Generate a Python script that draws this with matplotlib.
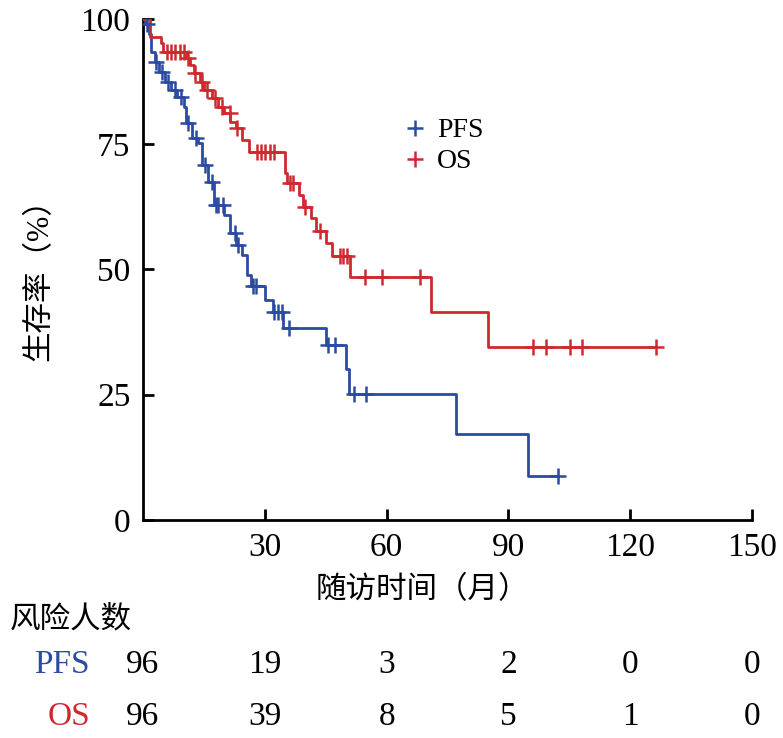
import numpy as np
import matplotlib
matplotlib.use('Agg')
import matplotlib.pyplot as plt
from matplotlib.lines import Line2D
from matplotlib.transforms import blended_transform_factory

plt.rcParams['font.family'] = ['Liberation Serif', 'Noto Sans CJK SC']

BLUE = '#2b4ba2'
RED = '#cd2a2f'

# step curves: event time (months) -> survival (%) after the drop
pfs_times = [0.5, 1.5, 2.0, 3.0, 4.0, 5.5, 7.0, 8.5, 10.0, 10.5, 12.0, 13.5, 14.5,
             16.0, 17.5, 20.0, 21.5, 23.0, 24.5, 25.5, 26.5, 30.0, 32.0, 34.5,
             45.0, 50.0, 50.8, 77.0, 94.8]
pfs_surv = [99.0, 97.0, 93.5, 91.5, 89.5, 87.5, 85.8, 84.4, 82.4, 79.2, 76.2, 75.2, 70.8,
            67.5, 62.9, 60.9, 57.3, 54.9, 52.9, 48.9, 46.7, 43.9, 41.5, 38.3,
            34.9, 30.1, 25.1, 17.2, 8.8]
pfs_censor = [1.0, 3.2, 4.6, 6.2, 7.8, 9.4, 11.2, 13.0, 15.3, 17.0, 18.0, 18.6, 19.7,
              22.7, 23.4, 27.0, 27.8, 32.3, 33.2, 34.2, 36.0, 45.5, 47.2, 52.0, 55.0, 102.2]

os_times = [1.7, 4.5, 5.0, 10.5, 11.5, 12.5, 14.0, 15.0, 17.0, 18.5, 20.0, 21.5, 23.0,
            24.5, 26.0, 35.0, 35.5, 38.5, 39.5, 41.5, 42.5, 45.0, 46.5, 51.0, 71.0, 85.0]
os_surv = [96.4, 95.2, 93.4, 92.2, 90.8, 89.2, 87.4, 85.8, 84.2, 82.4, 81.2, 79.4, 78.2,
           75.8, 73.5, 69.3, 67.3, 64.9, 62.5, 60.3, 57.7, 55.3, 52.7, 48.5, 41.5, 34.6]
os_censor = [6.0, 7.0, 8.0, 9.0, 10.0, 11.0, 12.8, 14.5, 15.8, 17.7, 19.5, 21.4, 23.1,
             28.0, 29.0, 30.0, 31.3, 32.3, 36.2, 37.0, 40.0, 43.6, 48.5, 49.3, 50.2,
             54.7, 58.9, 68.2, 96.0, 99.3, 105.2, 108.1, 126.4]

xticks = [30, 60, 90, 120, 150]
yticks = [0, 25, 50, 75, 100]
risk_times = [0, 30, 60, 90, 120, 150]
risk_pfs = [96, 19, 3, 2, 0, 0]
risk_os = [96, 39, 8, 5, 1, 0]

fig = plt.figure(figsize=(7.83, 7.38), dpi=100)
ax = fig.add_axes([0.1826, 0.2954, 0.7778, 0.6789])


def draw_curve(times, surv, censor, color):
    t = np.concatenate([[0.0], times, [max(censor)]])
    s = np.concatenate([[100.0], surv, [surv[-1]]])
    ax.step(t, s, where='post', color=color, lw=2.0, zorder=3)
    idx = np.searchsorted(t, censor, side='right') - 1
    ax.plot(censor, s[idx], ls='none', marker='+', ms=12, mew=1.8, color=color, zorder=4)


draw_curve(pfs_times, pfs_surv, pfs_censor, BLUE)
draw_curve(os_times, os_surv, os_censor, RED)

ax.set_xlim(0, 150)
ax.set_ylim(0, 100)
ax.set_xticks(xticks)
ax.set_yticks(yticks)
ax.spines['top'].set_visible(False)
ax.spines['right'].set_visible(False)
for sp in ('left', 'bottom'):
    ax.spines[sp].set_linewidth(2)
ax.tick_params(direction='in', length=8, width=2, labelsize=24, pad=9)

handles = [Line2D([], [], ls='none', marker='+', ms=12, mew=1.8, color=BLUE),
           Line2D([], [], ls='none', marker='+', ms=12, mew=1.8, color=RED)]
ax.legend(handles, ['PFS', 'OS'], loc='upper left', bbox_to_anchor=(0.405, 0.83),
          frameon=False, fontsize=20, handlelength=0.8, handletextpad=0.4,
          labelspacing=0.2, borderpad=0)

fig.text(0.051, 0.631, '生存率（%）', rotation=90, ha='center', va='center', fontsize=22)
fig.text(0.540, 0.2005, '随访时间（月）', ha='center', va='center', fontsize=22)
fig.text(0.013, 0.160, '风险人数', ha='left', va='center', fontsize=22)

tr = blended_transform_factory(ax.transData, fig.transFigure)
fig.text(0.115, 0.099, 'PFS', ha='right', va='center', fontsize=24, color=BLUE)
fig.text(0.115, 0.0285, 'OS', ha='right', va='center', fontsize=24, color=RED)
for x, a, b in zip(risk_times, risk_pfs, risk_os):
    ax.text(x, 0.099, str(a), transform=tr, ha='center', va='center', fontsize=24, clip_on=False)
    ax.text(x, 0.0285, str(b), transform=tr, ha='center', va='center', fontsize=24, clip_on=False)

fig.savefig('out.png', dpi=100)
